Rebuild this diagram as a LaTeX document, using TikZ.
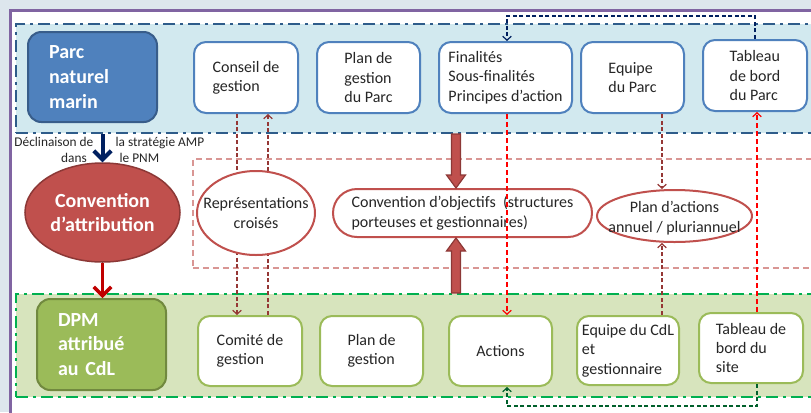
\documentclass[tikz,border=0pt]{standalone}
\usepackage{fontspec}
\setmainfont{Carlito}
\usepackage{tikz}
\usetikzlibrary{shapes.geometric,arrows.meta,calc}
\newlength{\pxu}
\setlength{\pxu}{0.75pt}
\newcommand{\boxfont}{\fontsize{12}{14.5}\selectfont}
\newcommand{\headfont}{\fontsize{15}{18.5}\selectfont\bfseries}
\newcommand{\declfont}{\fontsize{10}{11.5}\selectfont}
\definecolor{outerbg}{HTML}{DDE6ED}
\definecolor{panelpurple}{HTML}{8064A2}
\definecolor{pnmblue}{HTML}{4F81BD}
\definecolor{pnmblueline}{HTML}{385D8A}
\definecolor{bandblue}{HTML}{D2E9EF}
\definecolor{bandblueline}{HTML}{2E5C8A}
\definecolor{convred}{HTML}{C0504D}
\definecolor{convredline}{HTML}{8C3836}
\definecolor{pinkline}{HTML}{D99694}
\definecolor{cdlgreen}{HTML}{9BBB59}
\definecolor{cdlgreenline}{HTML}{71893F}
\definecolor{bandgreen}{HTML}{D7E4BD}
\definecolor{bandgreenline}{HTML}{00B050}
\definecolor{linkred}{HTML}{953735}
\definecolor{brightred}{HTML}{FF0000}
\definecolor{linkgreen}{HTML}{00602B}
\definecolor{pnmnavy}{HTML}{002060}
\definecolor{arrowred}{HTML}{C00000}
\definecolor{textgray}{HTML}{262626}

\begin{document}
\begin{tikzpicture}[x=0.75pt,y=-0.75pt,
  band/.style={line width=2\pxu,dash pattern=on 12\pxu off 5\pxu on 3\pxu off 5\pxu,minimum width=800\pxu,anchor=north west,inner sep=0pt},
  bluebox/.style={draw=pnmblue,line width=2\pxu,fill=white,rounded corners=9pt,align=left,font=\boxfont,text=textgray,minimum width=104\pxu,minimum height=71\pxu},
  greenbox/.style={bluebox,draw=cdlgreen,minimum height=70\pxu},
  headbox/.style={rounded corners=10pt,line width=2\pxu,align=left,text width=87\pxu,font=\headfont,text=white,minimum width=129\pxu,minimum height=90\pxu},
  whiteell/.style={ellipse,draw=convred,line width=2\pxu,fill=white,inner sep=0pt},
  elltext/.style={align=center,font=\boxfont,text=textgray,inner sep=0pt},
  darklink/.style={draw=linkred,line width=0.9pt,dash pattern=on 3pt off 1.9pt,-{Straight Barb[length=3pt,width=6.5pt]}},
  redlink/.style={darklink,draw=brightred,dash pattern=on 3.8pt off 2.2pt},
  greenlink/.style={darklink,draw=linkgreen},
  navylink/.style={darklink,draw=pnmnavy},
  blockarrow/.style={fill=convred,draw=convredline,line width=0.9pt},
  smalltext/.style={font=\declfont,text=textgray,inner sep=1pt}]
\clip (0,0) rectangle (811,412);
\fill[outerbg] (0,0) rectangle (811,412);
\filldraw[fill=white,draw=panelpurple,line width=3\pxu] (10.5,10.5) rectangle (830,430);

\node[band,draw=bandblueline,fill=bandblue,minimum height=109\pxu] (bandpnm) at (15,23) {};
\node[band,draw=bandgreenline,fill=bandgreen,minimum height=103\pxu] (bandcdl) at (15,293) {};
\node[draw=pinkline,line width=1.5\pxu,dash pattern=on 6\pxu off 4\pxu,minimum width=630\pxu,minimum height=109\pxu,anchor=north west,inner sep=0pt] (bandconv) at (192,158) {};

\node[headbox,fill=pnmblue,draw=pnmblueline] (pnm) at (92.5,77) {Parc\\naturel\\marin};
\node[bluebox] (conseil) at (246,77.5) {Conseil de\\gestion};
\node[bluebox,minimum width=103\pxu] (plangestion) at (368.5,77.5) {Plan de\\gestion\\du Parc};
\node[bluebox,minimum width=133\pxu] (finalites) at (505.5,77.5) {Finalités\\Sous-finalités\\Principes d'action};
\node[bluebox,minimum width=103\pxu] (equipe) at (632.5,77.5) {Equipe\\du Parc};
\node[bluebox] (tableau) at (755,75.5) {Tableau\\de bord\\du Parc};

\node[headbox,fill=cdlgreen,draw=cdlgreenline,minimum height=91\pxu] (dpm) at (101.5,344.5) {DPM\\attribué\\au CdL};
\node[greenbox] (comite) at (250,351) {Comité de\\gestion};
\node[greenbox,minimum width=103\pxu] (plangestcdl) at (371.5,351) {Plan de\\gestion};
\node[greenbox,minimum width=103\pxu] (actions) at (500.5,351) {Actions};
\node[greenbox,minimum width=102\pxu,minimum height=69\pxu] (equipecdl) at (628,350.5) {Equipe du CdL\\et\\gestionnaire};
\node[greenbox] (tableausite) at (751,348) {Tableau de\\bord du\\site};

\coordinate (repl) at (237,0);
\coordinate (repr) at (268,0);
\draw[darklink] (repl |- conseil.south) -- (repl |- comite.north);
\draw[darklink] (repr |- comite.north) -- (repr |- conseil.south);
\node[whiteell,minimum width=118\pxu,minimum height=84\pxu] (represent) at (256,213) {};
\node[elltext] (representtext) at (represent) {Représentations\\croisés};

\node[ellipse,fill=convred,draw=convredline,line width=1.5\pxu,inner sep=0pt,minimum width=155\pxu,minimum height=99\pxu,align=center,font=\headfont,text=white] (convattr) at (102.5,212.5) {Convention\\d'attribution};

\node[draw=convred,line width=2\pxu,fill=white,rounded corners=18pt,minimum width=259\pxu,minimum height=48\pxu,align=left,font=\boxfont,text=textgray] (convobj) at (462.5,213) {Convention d'objectifs\ \ (structures\\porteuses et gestionnaires)};

\node[whiteell,minimum width=155\pxu,minimum height=52\pxu] (planactions) at (674.5,216) {};
\node[elltext] (planactionstext) at ([yshift=-2\pxu]planactions) {Plan d'actions\\annuel / pluriannuel};

\coordinate (eqx) at (662,0);
\draw[darklink] (eqx |- equipe.south) -- (eqx |- planactions.north);
\draw[darklink] (eqx |- equipecdl.north) -- (eqx |- planactions.south);

\coordinate (topturn) at (507,16);
\coordinate (botturn) at (507,406);
\coordinate (tabx) at (757,0);
\draw[redlink] (botturn |- finalites.south) -- (botturn |- actions.north);
\draw[redlink] (tabx |- tableausite.north) -- (tabx |- tableau.south);
\draw[greenlink] (tabx |- tableausite.south) |- (botturn) -- (botturn |- actions.south);
\draw[navylink] (tableau.north) |- (topturn) -- (topturn |- finalites.north);

\coordinate (bigx) at (456,0);
\filldraw[blockarrow] ($(bigx |- bandpnm.south)+(-4.5,0)$) -- ($(bigx |- convobj.north)+(-4.5,-13)$) -- ++(-5,0) -- (bigx |- convobj.north) -- ++(9.5,-13) -- ++(-5,0) -- ($(bigx |- bandpnm.south)+(4.5,0)$) -- cycle;
\filldraw[blockarrow] ($(bigx |- bandcdl.north)+(-4.5,0)$) -- ($(bigx |- convobj.south)+(-4.5,13)$) -- ++(-5,0) -- (bigx |- convobj.south) -- ++(9.5,13) -- ++(-5,0) -- ($(bigx |- bandcdl.north)+(4.5,0)$) -- cycle;

\draw[pnmnavy,line width=3pt,-{Straight Barb[length=6.5pt,width=13pt]}] (convattr.north |- bandpnm.south) -- (convattr.north);
\draw[arrowred,line width=2.6pt,-{Straight Barb[length=6.5pt,width=13pt]}] (convattr.south) -- (convattr.south |- dpm.north);

\node[smalltext,align=right,anchor=east] (decl) at (95,150) {Déclinaison de\\dans\hspace*{5pt}};
\node[smalltext,align=left,anchor=west] (strat) at (114,150) {la stratégie AMP\\\hspace*{3pt}le PNM};
\end{tikzpicture}
\end{document}
